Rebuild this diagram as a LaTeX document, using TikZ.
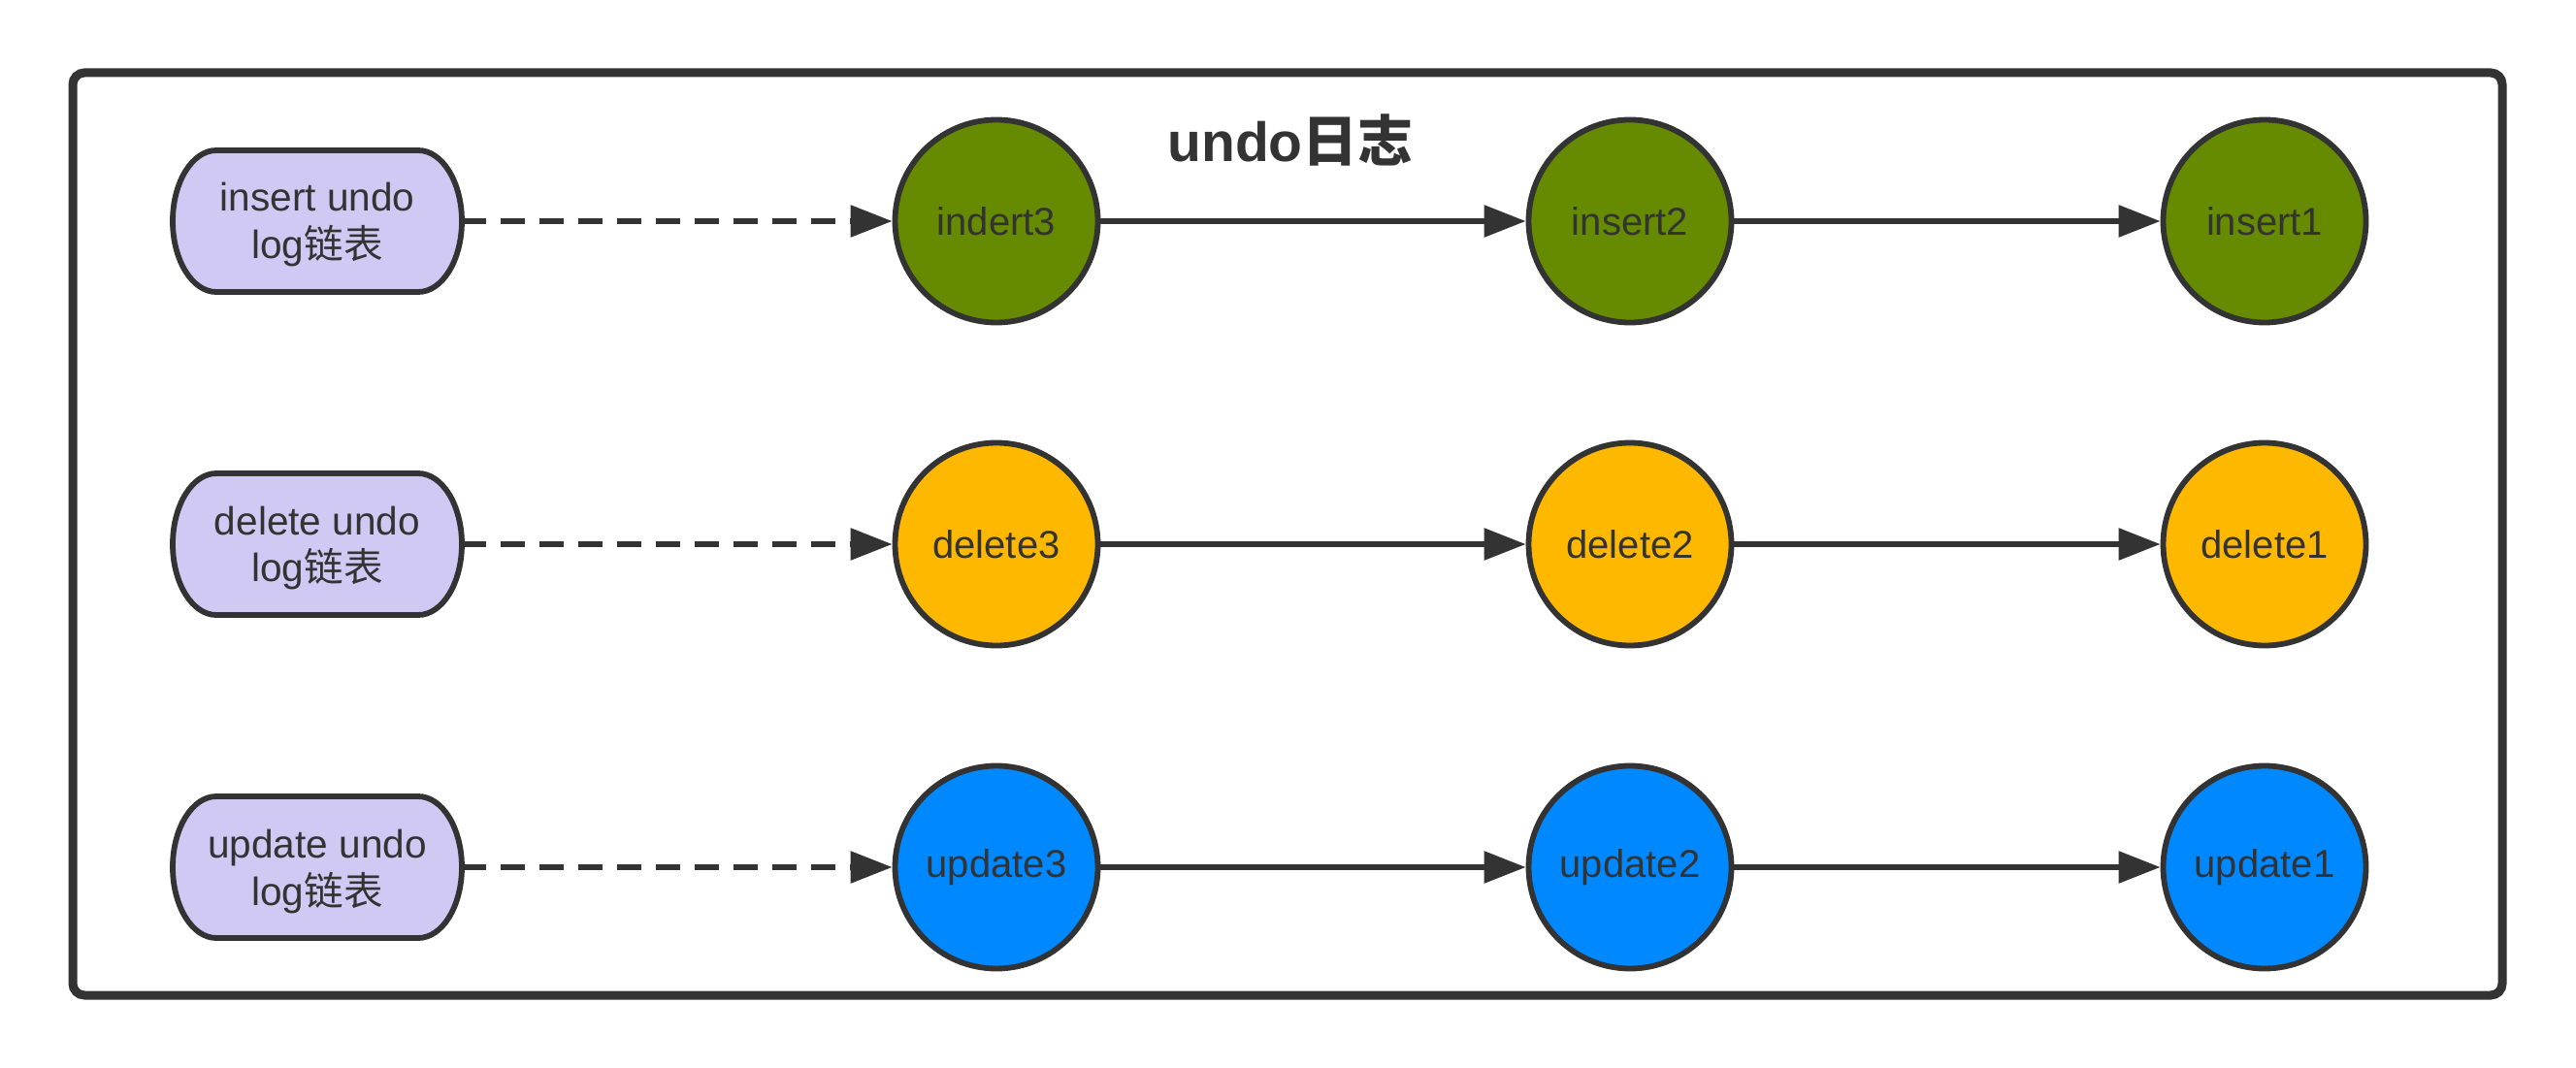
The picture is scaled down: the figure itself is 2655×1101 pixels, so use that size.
\documentclass[tikz,border=0pt]{standalone}
\usepackage{fontspec}
\setmainfont{Liberation Sans}
\newfontfamily\cjk{Noto Sans CJK SC}
\usetikzlibrary{arrows.meta}
\definecolor{edge}{HTML}{333333}
\definecolor{txt}{HTML}{333333}
\definecolor{lav}{HTML}{D0C9F4}
\definecolor{grn}{HTML}{668B00}
\definecolor{org}{HTML}{FFB800}
\definecolor{blu}{HTML}{0088FF}
\newcommand\pillat[2]{\draw[pillshape] (#1-104,#2-73) -- ++(208,0) .. controls +(24.8,0) and +(0,-40.3) .. ++(45,73) .. controls +(0,40.3) and +(24.8,0) .. ++(-45,73) -- ++(-208,0) .. controls +(-24.8,0) and +(0,40.3) .. ++(-45,-73) .. controls +(0,-40.3) and +(-24.8,0) .. ++(45,-73) -- cycle;}
\begin{document}
\begin{tikzpicture}[x=0.5pt,y=-0.5pt,
  every node/.style={text=txt},
  frame/.style={draw=edge,line width=4.5pt,rounded corners=6pt},
  pillshape/.style={draw=edge,fill=lav,line width=2.9pt},
  pilltext/.style={shape=rectangle,minimum width=149pt,minimum height=73pt,inner sep=0pt,align=center,font=\fontsize{20.3}{24.5}\selectfont},
  rec/.style={circle,draw=edge,line width=2.9pt,minimum size=104.5pt,inner sep=0pt,font=\fontsize{20}{24}\selectfont},
  gr/.style={rec,fill=grn},
  og/.style={rec,fill=org},
  bl/.style={rec,fill=blu},
  link/.style={draw=edge,line width=2.9pt,-{Triangle[length=21.5pt,width=16pt]}},
  dlink/.style={link,dash pattern=on 12.5pt off 7.5pt},
  title/.style={font=\fontsize{28.5}{33}\selectfont\bfseries}
]
\useasboundingbox (0,0) rectangle (2655,1101);
\draw[frame] (75,75) rectangle (2579,1026);
\node[title] (t) at (1330,145) {undo{\cjk\bfseries 日志}};
\pillat{327}{228}
\pillat{327}{561}
\pillat{327}{894}
\node[pilltext] (p1) at (327,228) {};
\node[pilltext] (p2) at (327,561) {};
\node[pilltext] (p3) at (327,894) {};
\node[pilltext,yshift=-2pt] (p1t) at (p1) {insert undo\\log{\cjk 链表}};
\node[pilltext,yshift=-2pt] (p2t) at (p2) {delete undo\\log{\cjk 链表}};
\node[pilltext,yshift=-2pt] (p3t) at (p3) {update undo\\log{\cjk 链表}};
\node[gr] (i3) at (1027,228) {indert3};
\node[gr] (i2) at (1680,228) {insert2};
\node[gr] (i1) at (2334,228) {insert1};
\node[og] (d3) at (1027,561) {delete3};
\node[og] (d2) at (1680,561) {delete2};
\node[og] (d1) at (2334,561) {delete1};
\node[bl] (u3) at (1027,894) {update3};
\node[bl] (u2) at (1680,894) {update2};
\node[bl] (u1) at (2334,894) {update1};
\draw[dlink] (p1) -- (i3);
\draw[dlink] (p2) -- (d3);
\draw[dlink] (p3) -- (u3);
\draw[link] (i3) -- (i2);
\draw[link] (i2) -- (i1);
\draw[link] (d3) -- (d2);
\draw[link] (d2) -- (d1);
\draw[link] (u3) -- (u2);
\draw[link] (u2) -- (u1);
\end{tikzpicture}
\end{document}
